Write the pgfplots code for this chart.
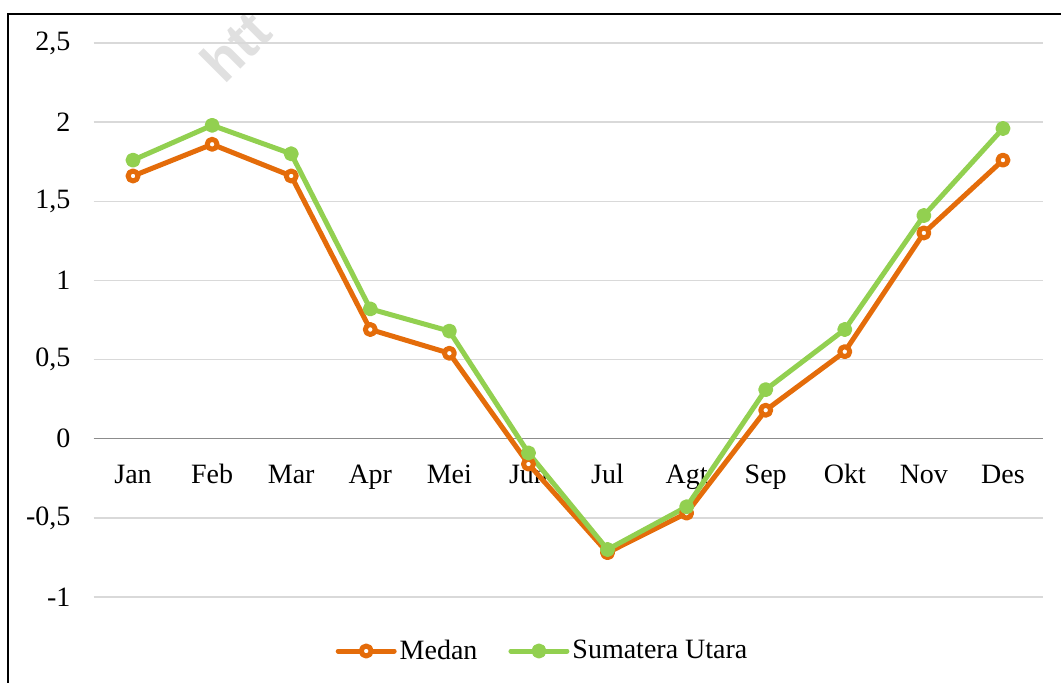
\documentclass[border=0pt]{standalone}
\usepackage{fontspec}
\setmainfont{Liberation Serif}
\newfontfamily\wmfont{Liberation Sans}
\usepackage{pgfplots}
\usepackage{pgfplotstable}
\pgfplotsset{compat=1.18}
\definecolor{medan}{HTML}{E46C0A}
\definecolor{sumut}{HTML}{92D050}
\definecolor{gridgray}{HTML}{D9D9D9}
\definecolor{zerogray}{HTML}{8C8C8C}

% month index, Medan, Sumatera Utara
\pgfplotstableread{
m medan sumut
1 1.66 1.76
2 1.86 1.98
3 1.66 1.80
4 0.69 0.82
5 0.54 0.68
6 -0.16 -0.09
7 -0.72 -0.70
8 -0.47 -0.43
9 0.18 0.31
10 0.55 0.69
11 1.30 1.41
12 1.76 1.96
}\datatable

\begin{document}
\begin{tikzpicture}
\path[use as bounding box] (0,0) rectangle (530.5pt,341pt);
% faint watermark
\node[font=\wmfont\bfseries\fontsize{28}{30}\selectfont, text=black!12,
      rotate=45, anchor=base west, inner sep=0pt] at (112pt,298pt) {htt};
% frame
\draw[line width=1pt] (4pt,-1pt) -- (4pt,334pt) -- (532pt,334pt);

\begin{axis}[
    at={(46.75pt,42.5pt)}, anchor=south west,
    scale only axis,
    width=474.5pt, height=277pt,
    xmin=0.5, xmax=12.5,
    ymin=-1, ymax=2.5,
    axis x line=middle, axis y line=left,
    axis line style={-},
    x axis line style={zerogray, line width=0.75pt},
    y axis line style={draw=none},
    hide obscured x ticks=false,
    hide obscured y ticks=false,
    major tick length=0pt,
    xtick={1,...,12},
    xticklabels={Jan,Feb,Mar,Apr,Mei,Jun,Jul,Agt,Sep,Okt,Nov,Des},
    ytick={-1,-0.5,0,0.5,1,1.5,2,2.5},
    yticklabels={-1,{-0,5},0,{0,5},1,{1,5},2,{2,5}},
    ymajorgrids,
    grid style={gridgray, line width=0.75pt},
    tick label style={font=\fontsize{14}{16}\selectfont},
    xticklabel style={anchor=base, yshift=-22.5pt},
    yticklabel style={xshift=-8pt},
    legend style={
        at={(0.4737,-0.0975)}, anchor=center,
        draw=none, fill=none,
        legend columns=2,
        font=\fontsize{14}{16}\selectfont,
        nodes={inner sep=1.5pt},
        /tikz/every even column/.append style={column sep=14pt},
    },
    legend image code/.code={
        \draw[mark repeat=2, mark phase=2, #1]
            plot coordinates {(0pt,0pt) (14pt,0pt) (28pt,0pt)};
    },
    every axis plot/.append style={line width=2.5pt, line join=round, line cap=round},
]

\addplot[medan, mark=*, mark size=2.5pt,
    mark options={fill=white, draw=medan, line width=2.5pt}]
    table[x=m, y=medan] {\datatable};
\addlegendentry{Medan}

\addplot[sumut, mark=*, mark size=2.5pt,
    mark options={fill=sumut, draw=sumut, line width=2.5pt}]
    table[x=m, y=sumut] {\datatable};
\addlegendentry{Sumatera Utara}

\end{axis}
\end{tikzpicture}
\end{document}
